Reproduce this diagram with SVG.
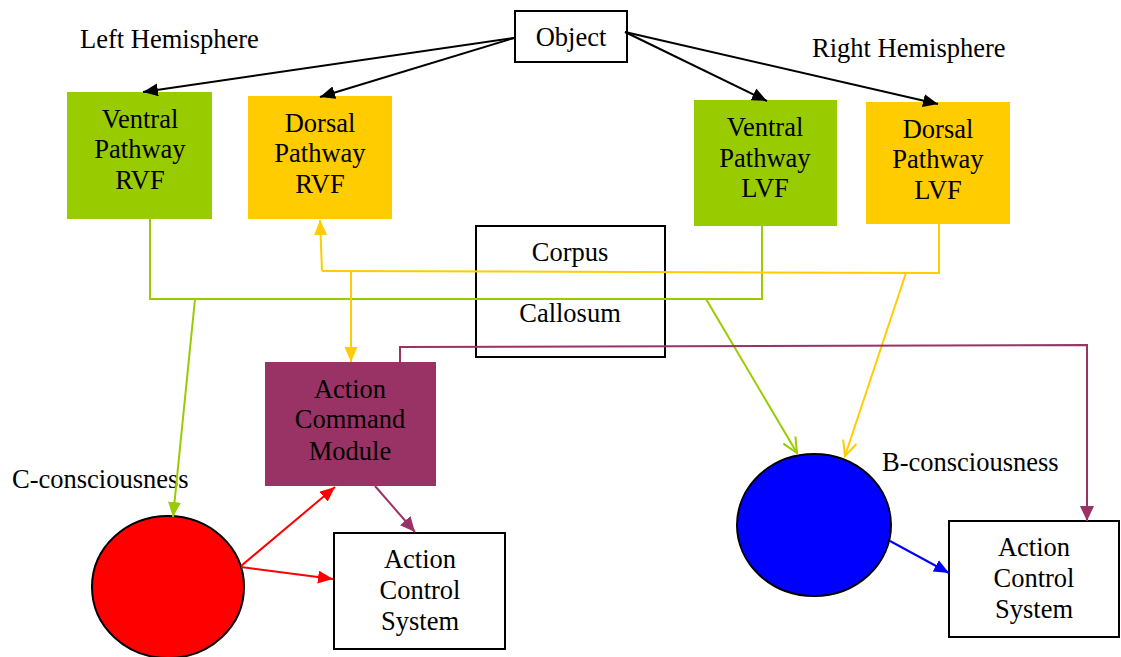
<svg xmlns="http://www.w3.org/2000/svg" width="1121" height="657" viewBox="0 0 1121 657">
<style>
text{font-family:"Liberation Serif","Times New Roman",serif;font-size:26.5px;fill:#000}
.c{text-anchor:middle}
.box{fill:#fff;stroke:#000;stroke-width:2}
.ln{fill:none;stroke-width:2}
</style>
<defs>
<marker id="aK" markerUnits="userSpaceOnUse" markerWidth="15" markerHeight="13" refX="15" refY="6.5" orient="auto"><path d="M0,0 L15,6.5 L0,13 z" fill="#000"/></marker>
<marker id="aG" markerUnits="userSpaceOnUse" markerWidth="15" markerHeight="13" refX="15" refY="6.5" orient="auto"><path d="M0,0 L15,6.5 L0,13 z" fill="#99CC00"/></marker>
<marker id="aY" markerUnits="userSpaceOnUse" markerWidth="15" markerHeight="13" refX="15" refY="6.5" orient="auto"><path d="M0,0 L15,6.5 L0,13 z" fill="#FFCC00"/></marker>
<marker id="aP" markerUnits="userSpaceOnUse" markerWidth="15" markerHeight="14" refX="15" refY="7" orient="auto"><path d="M0,0 L15,7 L0,14 z" fill="#993366"/></marker>
<marker id="aR" markerUnits="userSpaceOnUse" markerWidth="15" markerHeight="13" refX="15" refY="6.5" orient="auto"><path d="M0,0 L15,6.5 L0,13 z" fill="#FF0000"/></marker>
<marker id="aB" markerUnits="userSpaceOnUse" markerWidth="15" markerHeight="13" refX="15" refY="6.5" orient="auto"><path d="M0,0 L15,6.5 L0,13 z" fill="#0000FF"/></marker>
<marker id="oG" markerUnits="userSpaceOnUse" markerWidth="18" markerHeight="16" refX="16" refY="8" orient="auto" overflow="visible"><path d="M1,1 L16,8 L1,15" fill="none" stroke="#99CC00" stroke-width="2"/></marker>
<marker id="oY" markerUnits="userSpaceOnUse" markerWidth="18" markerHeight="16" refX="16" refY="8" orient="auto" overflow="visible"><path d="M1,1 L16,8 L1,15" fill="none" stroke="#FFCC00" stroke-width="2"/></marker>
</defs>

<text x="80" y="48">Left Hemisphere</text>
<text x="812" y="57">Right Hemisphere</text>
<text x="12" y="488">C-consciousness</text>
<text x="882" y="471">B-consciousness</text>

<g id="object">
<rect class="box" x="515" y="11" width="112" height="51"/>
<text class="c" x="571" y="46">Object</text>
</g>
<g id="ventral-rvf">
<rect x="67" y="92" width="145" height="127" fill="#99CC00"/>
<text class="c" x="140" y="128">Ventral</text>
<text class="c" x="140" y="158">Pathway</text>
<text class="c" x="140" y="189">RVF</text>
</g>
<g id="dorsal-rvf">
<rect x="248" y="96" width="144" height="123" fill="#FFCC00"/>
<text class="c" x="320" y="132">Dorsal</text>
<text class="c" x="320" y="162">Pathway</text>
<text class="c" x="320" y="193">RVF</text>
</g>
<g id="ventral-lvf">
<rect x="694" y="100" width="143" height="126" fill="#99CC00"/>
<text class="c" x="765" y="136">Ventral</text>
<text class="c" x="765" y="167">Pathway</text>
<text class="c" x="765" y="197">LVF</text>
</g>
<g id="dorsal-lvf">
<rect x="866" y="102" width="144" height="122" fill="#FFCC00"/>
<text class="c" x="938" y="138">Dorsal</text>
<text class="c" x="938" y="168">Pathway</text>
<text class="c" x="938" y="199">LVF</text>
</g>
<g id="corpus-callosum">
<rect class="box" x="476" y="226" width="189" height="131"/>
<text class="c" x="570" y="261">Corpus</text>
<text class="c" x="570" y="322">Callosum</text>
</g>
<g id="action-command-module">
<rect x="265" y="362" width="171" height="124" fill="#993366"/>
<text class="c" x="350" y="398">Action</text>
<text class="c" x="350" y="428">Command</text>
<text class="c" x="350" y="460">Module</text>
</g>
<g id="c-consciousness">
<ellipse cx="168" cy="587" rx="76" ry="71" fill="#FF0000" stroke="#000" stroke-width="2"/>
</g>
<g id="action-control-left">
<rect class="box" x="334" y="533" width="171" height="116"/>
<text class="c" x="420" y="568">Action</text>
<text class="c" x="420" y="599">Control</text>
<text class="c" x="420" y="630">System</text>
</g>
<g id="b-consciousness">
<ellipse cx="814" cy="525" rx="77" ry="71" fill="#0000FF" stroke="#000" stroke-width="2"/>
</g>
<g id="action-control-right">
<rect class="box" x="949" y="521" width="170" height="116"/>
<text class="c" x="1034" y="556">Action</text>
<text class="c" x="1034" y="587">Control</text>
<text class="c" x="1034" y="618">System</text>
</g>

<g id="connectors">
<g stroke="#000" class="ln">
<line x1="514" y1="38" x2="143" y2="92" marker-end="url(#aK)"/>
<line x1="514" y1="38" x2="320" y2="97" marker-end="url(#aK)"/>
<line x1="625" y1="32" x2="767" y2="101" marker-end="url(#aK)"/>
<line x1="625" y1="32" x2="938" y2="104" marker-end="url(#aK)"/>
</g>
<g stroke="#99CC00" class="ln">
<polyline points="150,219 150,299 762,299 762,226"/>
<line x1="195" y1="299" x2="173" y2="517" marker-end="url(#aG)"/>
<line x1="706" y1="299" x2="797" y2="453" marker-end="url(#oG)"/>
</g>
<g stroke="#FFCC00" class="ln">
<polyline points="939,223 939,273 322,271"/>
<line x1="322" y1="271" x2="320" y2="220" marker-end="url(#aY)"/>
<line x1="351" y1="271" x2="351" y2="362" marker-end="url(#aY)"/>
<line x1="906" y1="273" x2="845" y2="456" marker-end="url(#oY)"/>
</g>
<g stroke="#993366" class="ln">
<polyline points="400,362 400,347 1087,345 1087,521" marker-end="url(#aP)"/>
<line x1="375" y1="486" x2="415" y2="532" marker-end="url(#aP)"/>
</g>
<g stroke="#FF0000" class="ln">
<line x1="241" y1="566" x2="335" y2="487" marker-end="url(#aR)"/>
<line x1="241" y1="567" x2="333" y2="579" marker-end="url(#aR)"/>
</g>
<line x1="890" y1="541" x2="949" y2="573" stroke="#0000FF" class="ln" marker-end="url(#aB)"/>
</g>
</svg>
